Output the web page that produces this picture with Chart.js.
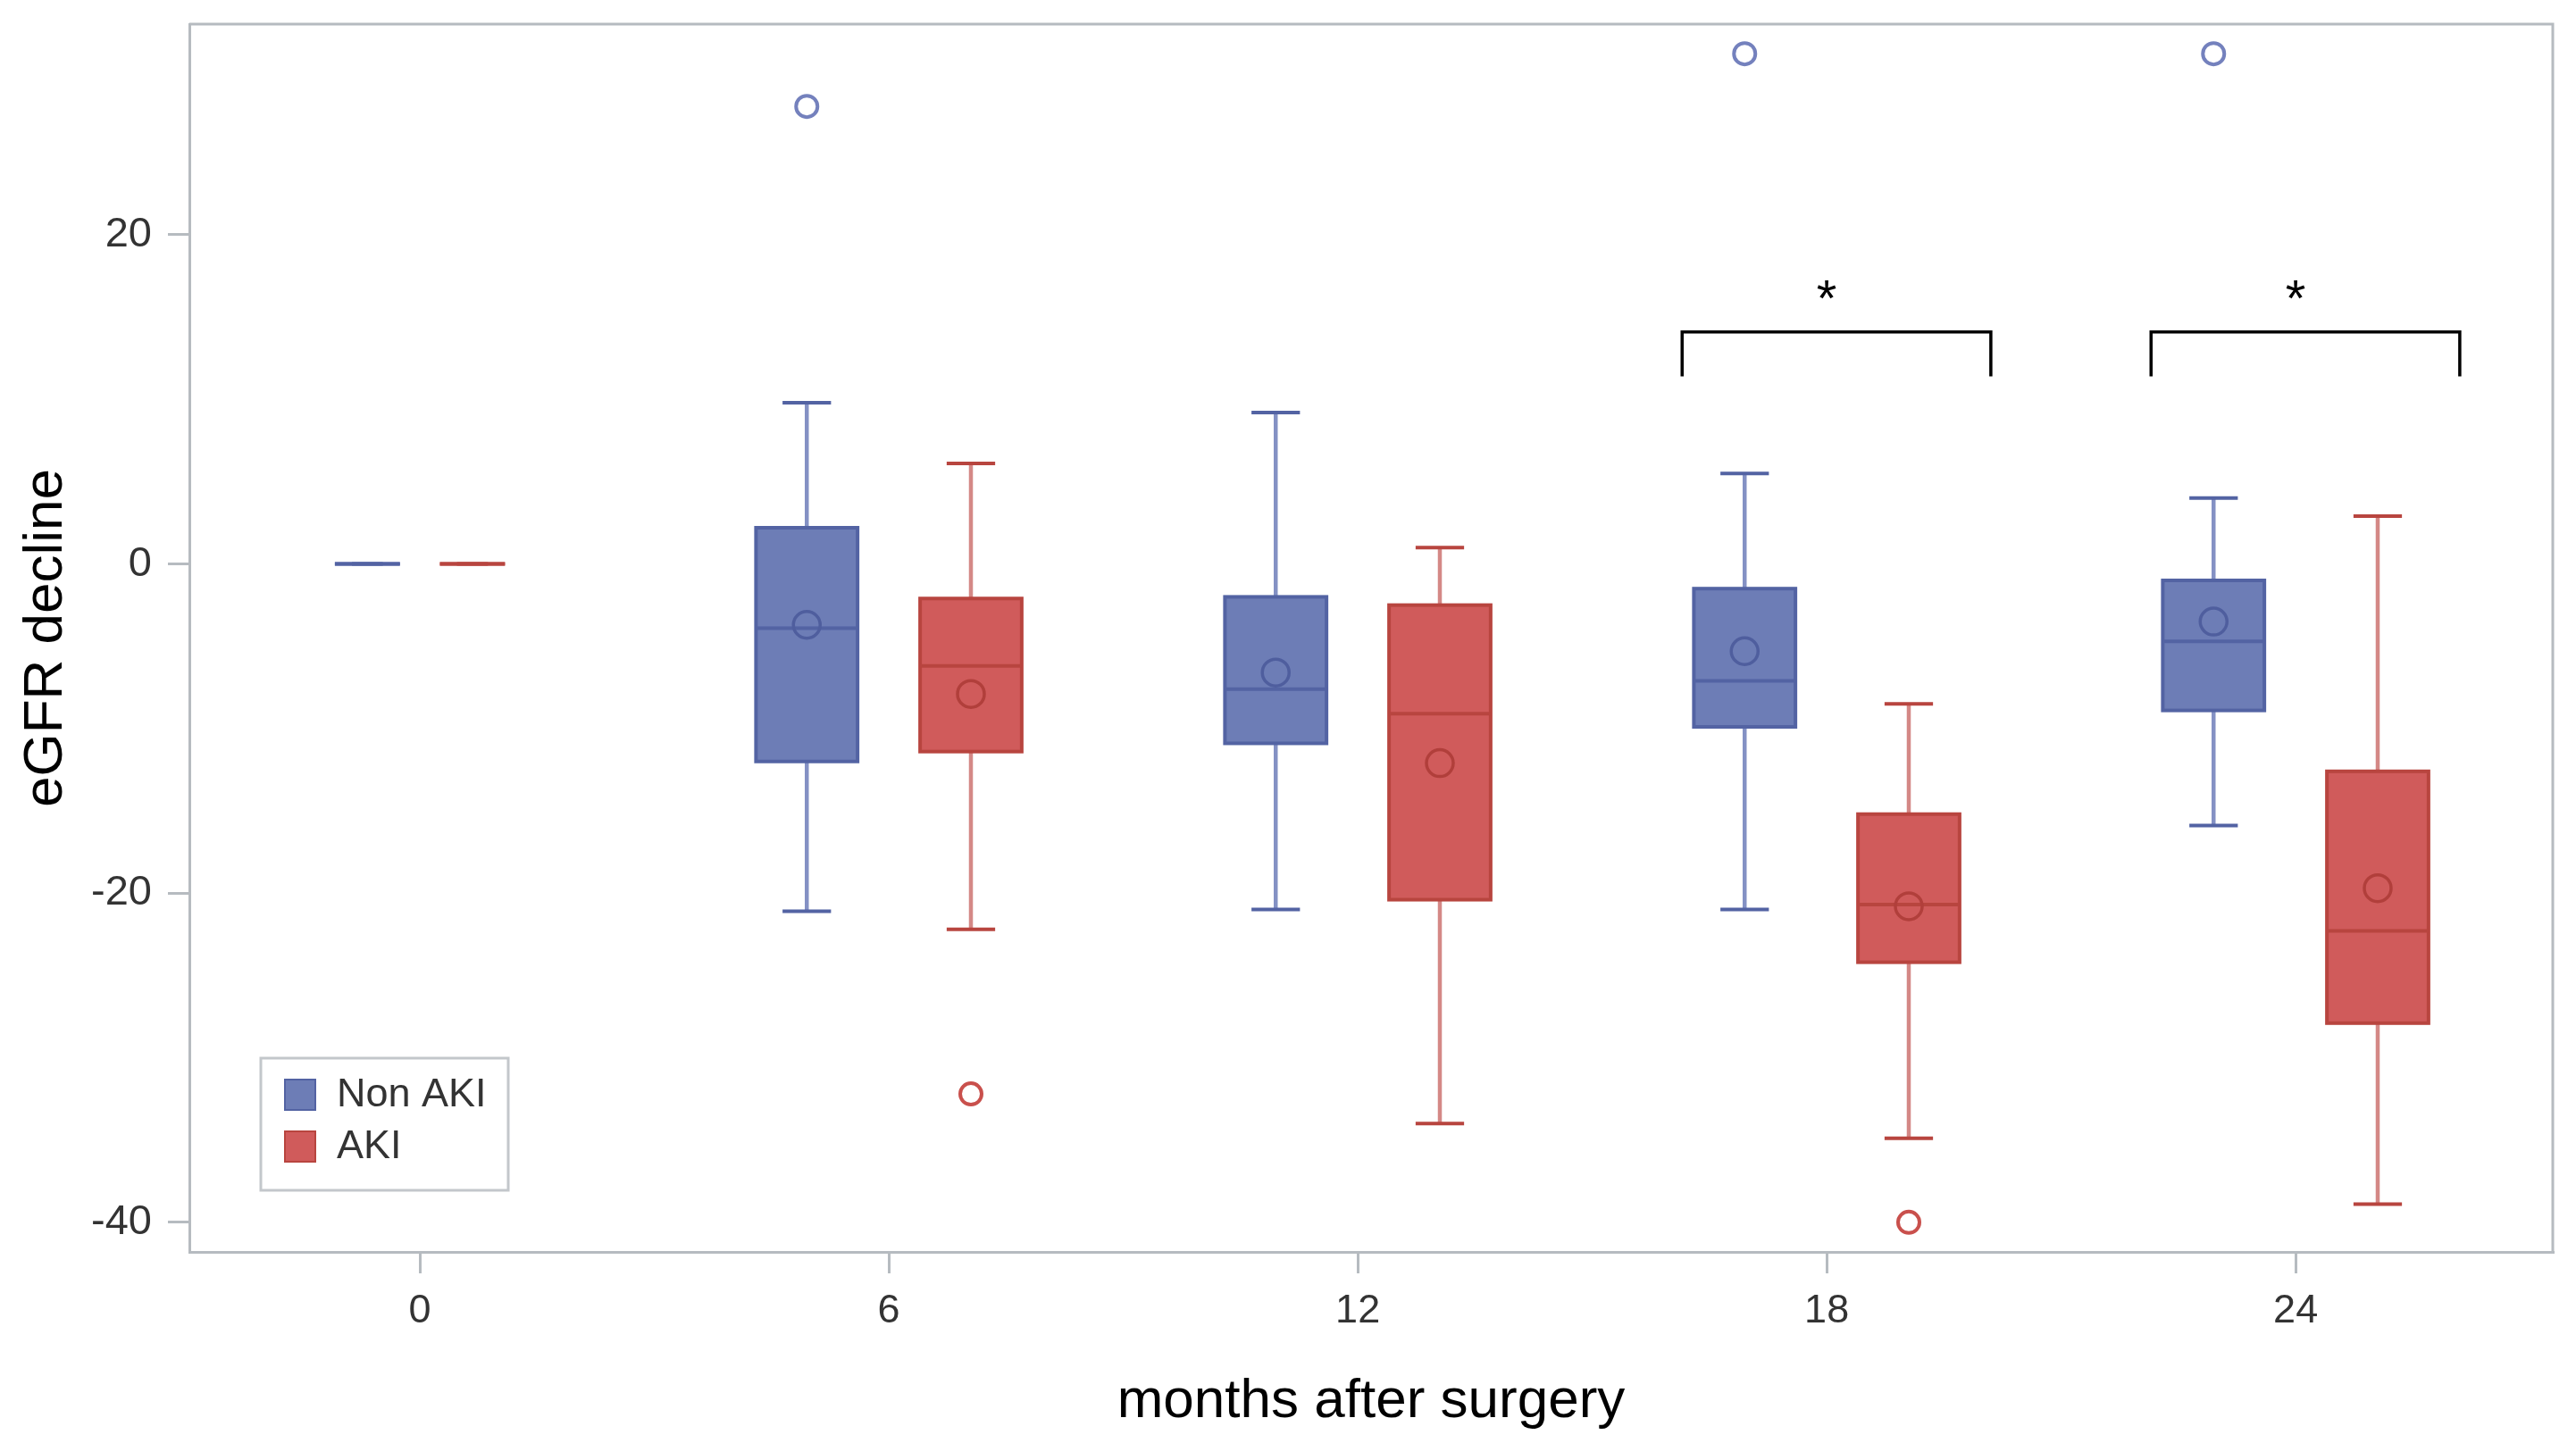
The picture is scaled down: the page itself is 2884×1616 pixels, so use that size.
<!DOCTYPE html>
<html>
<head>
<meta charset="utf-8">
<title>eGFR decline</title>
<script src="https://cdn.jsdelivr.net/npm/chart.js@4.4.1/dist/chart.umd.min.js"></script>
<style>
  html, body { margin: 0; padding: 0; background: #fff; }
  canvas { display: block; }
</style>
</head>
<body>
<canvas id="egfrChart" width="2884" height="1616"></canvas>
<script>
// months after surgery (x categories)
var months = [0, 6, 12, 18, 24];
var yTicks = [-40, -20, 0, 20];

// Non AKI box statistics, one value per month
var nonAkiMin    = [0, -21.1, -21.0, -21.0, -15.9];
var nonAkiQ1     = [0, -12.0, -10.9, -9.9, -8.9];
var nonAkiMedian = [0, -3.9, -7.6, -7.1, -4.7];
var nonAkiQ3     = [0, 2.2, -2.0, -1.5, -1.0];
var nonAkiMax    = [0, 9.8, 9.2, 5.5, 4.0];
var nonAkiMean   = [null, -3.7, -6.6, -5.3, -3.5];
var nonAkiOutlierMonths = [6, 18, 24];
var nonAkiOutlierValues = [27.8, 31.0, 31.0];

// AKI box statistics
var akiMin    = [0, -22.2, -34.0, -34.9, -38.9];
var akiQ1     = [0, -11.4, -20.4, -24.2, -27.9];
var akiMedian = [0, -6.2, -9.1, -20.7, -22.3];
var akiQ3     = [0, -2.1, -2.5, -15.2, -12.6];
var akiMax    = [0, 6.1, 1.0, -8.5, 2.9];
var akiMean   = [null, -7.9, -12.1, -20.8, -19.7];
var akiOutlierMonths = [6, 18];
var akiOutlierValues = [-32.2, -40.0];

// significance marks between the two groups
var sigMonths = [18, 24];
var sigLabel = '*';

var FONT = "'Liberation Sans', Arial, sans-serif";
var AXIS_GREY = '#b6bbc0';

// layout in month units
var groupShift = 1.05;
var boxWidth = 1.3;
var capWidth = 0.62;
// the baseline cluster is drawn narrower, as in the original
var clusterScale = [0.64, 1, 1, 1, 1];

var series = [
  { name: 'Non AKI', side: -1,
    min: nonAkiMin, q1: nonAkiQ1, median: nonAkiMedian, q3: nonAkiQ3, max: nonAkiMax,
    fill: '#6d7db6', line: '#5363a3', whisker: '#8491c4', outlier: '#7481bd' },
  { name: 'AKI', side: 1,
    min: akiMin, q1: akiQ1, median: akiMedian, q3: akiQ3, max: akiMax,
    fill: '#d05b5b', line: '#b8453f', whisker: '#d48886', outlier: '#c9504c' }
];

function meanPoints(means, side) {
    var pts = [];
    months.forEach(function (m, i) {
        if (means[i] !== null) pts.push({ x: m + side * groupShift * clusterScale[i], y: means[i] });
    });
    return pts;
}

function outlierPoints(ms, vals, side) {
    return ms.map(function (m, i) {
        var k = clusterScale[months.indexOf(m)];
        return { x: m + side * groupShift * k, y: vals[i] };
    });
}

var boxPlugin = {
    id: 'boxes',
    beforeDatasetsDraw: function (chart) {
        var ctx = chart.ctx;
        var x = chart.scales.x, y = chart.scales.y;
        var unit = x.getPixelForValue(1) - x.getPixelForValue(0);
        ctx.save();
        series.forEach(function (s) {
            months.forEach(function (m, i) {
                var k = clusterScale[i];
                var cx = x.getPixelForValue(m + s.side * groupShift * k);
                var halfBox = boxWidth * k * unit / 2;
                var halfCap = capWidth * k * unit / 2;
                var yMin = y.getPixelForValue(s.min[i]);
                var yQ1 = y.getPixelForValue(s.q1[i]);
                var yMed = y.getPixelForValue(s.median[i]);
                var yQ3 = y.getPixelForValue(s.q3[i]);
                var yMax = y.getPixelForValue(s.max[i]);

                // whiskers and caps
                ctx.strokeStyle = s.whisker;
                ctx.lineWidth = 4.5;
                ctx.beginPath();
                ctx.moveTo(cx, yQ3); ctx.lineTo(cx, yMax);
                ctx.moveTo(cx, yQ1); ctx.lineTo(cx, yMin);
                ctx.stroke();
                ctx.strokeStyle = s.line;
                ctx.lineWidth = 4;
                ctx.beginPath();
                ctx.moveTo(cx - halfCap, yMax); ctx.lineTo(cx + halfCap, yMax);
                ctx.moveTo(cx - halfCap, yMin); ctx.lineTo(cx + halfCap, yMin);
                ctx.stroke();

                // box
                ctx.fillStyle = s.fill;
                ctx.fillRect(cx - halfBox, yQ3, halfBox * 2, yQ1 - yQ3);
                ctx.strokeStyle = s.line;
                ctx.lineWidth = 4;
                ctx.strokeRect(cx - halfBox, yQ3, halfBox * 2, yQ1 - yQ3);

                // median
                ctx.beginPath();
                ctx.moveTo(cx - halfBox, yMed); ctx.lineTo(cx + halfBox, yMed);
                ctx.stroke();
            });
        });
        ctx.restore();
    },
    afterDraw: function (chart) {
        var ctx = chart.ctx;
        var area = chart.chartArea;
        var x = chart.scales.x, y = chart.scales.y;
        ctx.save();

        // top and right frame
        ctx.strokeStyle = AXIS_GREY;
        ctx.lineWidth = 3;
        ctx.beginPath();
        ctx.moveTo(area.left, area.top); ctx.lineTo(area.right, area.top);
        ctx.lineTo(area.right, area.bottom);
        ctx.stroke();

        // significance brackets
        sigMonths.forEach(function (m) {
            var x1 = x.getPixelForValue(m - 1.85);
            var x2 = x.getPixelForValue(m + 2.1);
            var yTop = y.getPixelForValue(14.1);
            var yLeg = y.getPixelForValue(11.4);
            ctx.strokeStyle = '#000';
            ctx.lineWidth = 3.5;
            ctx.beginPath();
            ctx.moveTo(x1, yLeg); ctx.lineTo(x1, yTop);
            ctx.lineTo(x2, yTop); ctx.lineTo(x2, yLeg);
            ctx.stroke();
            ctx.fillStyle = '#000';
            ctx.font = '58px ' + FONT;
            ctx.textAlign = 'center';
            ctx.textBaseline = 'alphabetic';
            ctx.fillText(sigLabel, x.getPixelForValue(m), y.getPixelForValue(16.9) + 0.59 * 58);
        });

        // legend, lower left inside the plot
        var lx = area.left + 80, lw = 277, lh = 148;
        var ly = area.bottom - 69 - lh;
        ctx.fillStyle = '#fff';
        ctx.fillRect(lx, ly, lw, lh);
        ctx.strokeStyle = '#c3c7cb';
        ctx.lineWidth = 3;
        ctx.strokeRect(lx, ly, lw, lh);
        series.forEach(function (s, i) {
            var sy = ly + 24 + i * 58;
            ctx.fillStyle = s.fill;
            ctx.fillRect(lx + 27, sy, 34, 34);
            ctx.strokeStyle = s.line;
            ctx.lineWidth = 2;
            ctx.strokeRect(lx + 27, sy, 34, 34);
            ctx.fillStyle = '#333';
            ctx.font = '45px ' + FONT;
            ctx.textAlign = 'left';
            ctx.textBaseline = 'middle';
            ctx.fillText(s.name, lx + 85, sy + 18);
        });
        ctx.restore();
    }
};

var ctx = document.getElementById('egfrChart');

var egfrChart = new Chart(ctx, {
    type: 'scatter',
    data: {
        datasets: [
            {
                label: 'Non AKI mean',
                data: meanPoints(nonAkiMean, -1),
                pointRadius: 15, pointBorderWidth: 3.5,
                pointBorderColor: '#4f5e9e', pointBackgroundColor: 'rgba(0,0,0,0)'
            },
            {
                label: 'AKI mean',
                data: meanPoints(akiMean, 1),
                pointRadius: 15, pointBorderWidth: 3.5,
                pointBorderColor: '#b13f3b', pointBackgroundColor: 'rgba(0,0,0,0)'
            },
            {
                label: 'Non AKI outliers',
                data: outlierPoints(nonAkiOutlierMonths, nonAkiOutlierValues, -1),
                pointRadius: 12, pointBorderWidth: 4,
                pointBorderColor: series[0].outlier, pointBackgroundColor: 'rgba(0,0,0,0)'
            },
            {
                label: 'AKI outliers',
                data: outlierPoints(akiOutlierMonths, akiOutlierValues, 1),
                pointRadius: 12, pointBorderWidth: 4,
                pointBorderColor: series[1].outlier, pointBackgroundColor: 'rgba(0,0,0,0)'
            }
        ]
    },
    options: {
        responsive: false,
        devicePixelRatio: 1,
        animation: false,
        events: [],
        layout: { padding: { top: 27, right: 26, left: 0, bottom: 0 } },
        plugins: {
            legend: { display: false },
            tooltip: { enabled: false }
        },
        scales: {
            x: {
                type: 'linear',
                min: -2.95,
                max: 27.29,
                afterBuildTicks: function (scale) {
                    scale.ticks = months.map(function (v) { return { value: v }; });
                },
                afterFit: function (scale) {
                    scale.height = 214;
                    scale.paddingLeft = 0;
                    scale.paddingRight = 0;
                },
                ticks: {
                    autoSkip: false, maxRotation: 0,
                    padding: 16, color: '#333',
                    font: { family: FONT, size: 45 }
                },
                grid: {
                    drawOnChartArea: false, drawTicks: true,
                    tickLength: 24, color: AXIS_GREY, lineWidth: 3
                },
                border: { display: true, color: AXIS_GREY, width: 3 },
                title: {
                    display: true, text: 'months after surgery', color: '#000',
                    font: { family: FONT, size: 62 },
                    padding: { top: 0, bottom: 9 }
                }
            },
            y: {
                min: -41.8,
                max: 32.8,
                afterBuildTicks: function (scale) {
                    scale.ticks = yTicks.map(function (v) { return { value: v }; });
                },
                afterFit: function (scale) {
                    scale.width = 212;
                    scale.paddingTop = 0;
                    scale.paddingBottom = 0;
                },
                ticks: {
                    padding: 18, color: '#333',
                    font: { family: FONT, size: 47 }
                },
                grid: {
                    drawOnChartArea: false, drawTicks: true,
                    tickLength: 24, color: AXIS_GREY, lineWidth: 3
                },
                border: { display: true, color: AXIS_GREY, width: 3 },
                title: {
                    display: true, text: 'eGFR decline', color: '#000',
                    font: { family: FONT, size: 62 },
                    padding: { top: 15, bottom: 0 }
                }
            }
        }
    },
    plugins: [boxPlugin]
});
</script>
</body>
</html>
